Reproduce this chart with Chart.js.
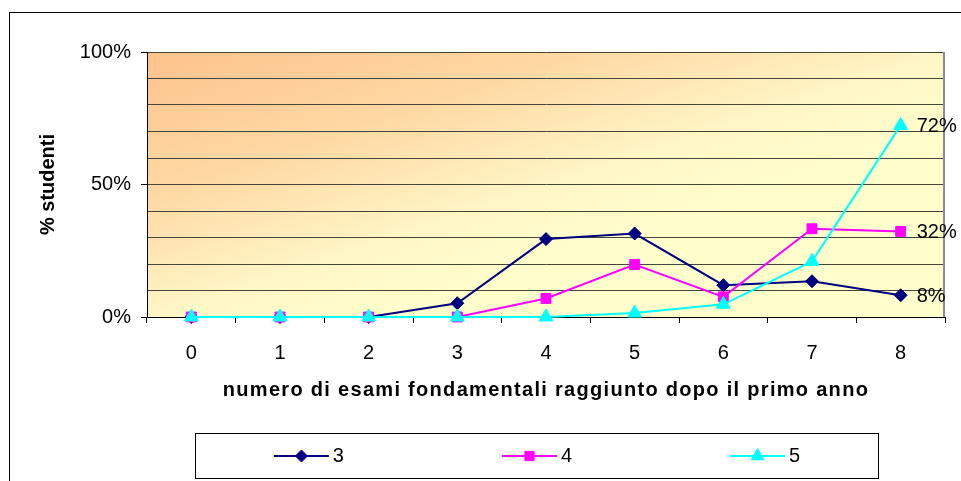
<!DOCTYPE html>
<html>
<head>
<meta charset="utf-8">
<script src="https://cdn.jsdelivr.net/npm/chart.js@4.4.0/dist/chart.umd.min.js"></script>
<style>
html,body{margin:0;padding:0;background:#ffffff;}
#wrap{width:961px;height:481px;position:relative;}
</style>
</head>
<body>
<div id="wrap"><canvas id="c" width="961" height="481"></canvas></div>
<script>
// ---- data ----
const categories = ['0','1','2','3','4','5','6','7','8'];
const seriesNames = ['3','4','5'];
const series3 = [0, 0, 0, 5.2, 29.4, 31.5, 12.0, 13.5, 8.2];
const series4 = [0, 0, 0, 0, 7.0, 19.8, 7.6, 33.3, 32.3];
const series5 = [0, 0, 0, 0, 0, 1.5, 4.8, 21.0, 72.3];
const yTickLabels = ['0%', '50%', '100%'];
const endLabels = ['8%', '32%', '72%'];
const xTitle = 'numero di esami fondamentali raggiunto dopo il primo anno';
const yTitle = '% studenti';

const FONT = "'Liberation Sans', Arial, sans-serif";
const colors = ['#000080', '#FF00FF', '#00FFFF'];
const styles = ['rectRot', 'rect', 'triangle'];
const radii = [6.5, 7, 8];

// legend marker images (line + marker)
function makeMarker(i) {
  const cv = document.createElement('canvas');
  cv.width = 200; cv.height = 22;
  const g = cv.getContext('2d');
  g.strokeStyle = colors[i];
  g.lineWidth = 2;
  g.beginPath(); g.moveTo(140, 11); g.lineTo(195, 11); g.stroke();
  g.fillStyle = colors[i];
  g.lineWidth = 1;
  Chart.helpers.drawPoint(g, {pointStyle: styles[i], radius: radii[i] - 0.5, rotation: 0, borderWidth: 1}, 167.5, 11);
  return cv;
}

const bgPlugin = {
  id: 'bg',
  beforeDraw(chart) {
    const {ctx, chartArea: a} = chart;
    ctx.save();
    ctx.fillStyle = '#ffffff';
    ctx.fillRect(0, 0, chart.width, chart.height);
    const w = a.right - a.left, h = a.bottom - a.top;
    // gradient perpendicular to the anti-diagonal of the plot area
    const t = 1 / (h / w + w / h);
    const gx = a.left + h * t * 1.35, gy = a.top + w * t * 1.35;
    const grad = ctx.createLinearGradient(a.left, a.top, gx, gy);
    grad.addColorStop(0, '#FDC28C');
    grad.addColorStop(0.4, '#FED8A3');
    grad.addColorStop(0.75, '#FFF6C6');
    grad.addColorStop(1, '#FFFFCC');
    ctx.fillStyle = grad;
    ctx.fillRect(a.left, a.top, w, h);
    // outer chart frame
    ctx.strokeStyle = '#000000';
    ctx.lineWidth = 1;
    ctx.strokeRect(9.5, 12.5, 965, 480);
    ctx.restore();
  },
  beforeDatasetsDraw(chart) {
    const {ctx, chartArea: a} = chart;
    ctx.save();
    ctx.strokeStyle = '#8c8c8c';
    ctx.lineWidth = 2;
    ctx.beginPath(); ctx.moveTo(a.right - 1, a.top); ctx.lineTo(a.right - 1, a.bottom); ctx.stroke();
    ctx.restore();
  },
  afterDraw(chart) {
    const {ctx} = chart;
    ctx.save();
    // end-of-line value labels
    ctx.font = '20px ' + FONT;
    ctx.fillStyle = '#000000';
    ctx.textAlign = 'left';
    ctx.textBaseline = 'middle';
    chart.data.datasets.forEach((ds, i) => {
      const meta = chart.getDatasetMeta(i);
      const p = meta.data[meta.data.length - 1];
      ctx.fillText(endLabels[i], p.x + 16, p.y + 1);
    });
    // legend frame
    ctx.strokeStyle = '#000000';
    ctx.lineWidth = 1;
    ctx.strokeRect(195.5, 433.5, 683, 45);
    ctx.restore();
  }
};

const spacingPlugin = {
  id: 'spacing',
  afterLayout(chart) {
    const xs = chart.scales.x;
    if (!xs._patched) {
      const orig = xs.drawTitle;
      xs.drawTitle = function () {
        const c = this.ctx;
        c.save();
        c.letterSpacing = '1.3px';
        orig.apply(this, arguments);
        c.restore();
      };
      xs._patched = true;
    }
  }
};

const datasets = [series3, series4, series5].map((vals, i) => ({
  label: seriesNames[i],
  data: vals,
  borderColor: colors[i],
  backgroundColor: colors[i],
  pointBackgroundColor: colors[i],
  pointBorderColor: colors[i],
  pointStyle: styles[i],
  pointRadius: radii[i],
  pointBorderWidth: 1,
  borderWidth: 2,
  tension: 0,
  clip: false,
  order: 2 - i
}));

const markers = [0, 1, 2].map(makeMarker);

new Chart(document.getElementById('c'), {
  type: 'line',
  data: { labels: categories, datasets },
  options: {
    responsive: false,
    maintainAspectRatio: false,
    animation: false,
    devicePixelRatio: 1,
    layout: { padding: { top: 52, right: 16, bottom: 5, left: 0 } },
    plugins: {
      tooltip: { enabled: false },
      legend: {
        position: 'bottom',
        labels: {
          usePointStyle: true,
          pointStyleWidth: 178,
          padding: 29,
          color: '#000000',
          font: { family: FONT, size: 20 },
          generateLabels(chart) {
            return chart.data.datasets.map((ds, i) => ({
              text: ds.label,
              pointStyle: markers[i],
              fillStyle: colors[i],
              strokeStyle: colors[i],
              lineWidth: 0,
              hidden: false,
              datasetIndex: i
            }));
          }
        }
      }
    },
    scales: {
      x: {
        type: 'category',
        offset: true,
        afterFit(s) { s.height = 100; },
        grid: {
          offset: true,
          drawOnChartArea: false,
          drawTicks: true,
          tickLength: 6,
          color: '#000000'
        },
        border: { display: true, color: '#000000', width: 1 },
        ticks: {
          color: '#000000',
          padding: 18,
          font: { family: FONT, size: 20 },
          maxRotation: 0,
          autoSkip: false
        },
        title: {
          display: true,
          text: xTitle,
          color: '#000000',
          font: { family: FONT, size: 20, weight: 'bold', lineHeight: 1.0 },
          padding: { top: 0, bottom: 17 }
        }
      },
      y: {
        min: 0,
        max: 100,
        afterFit(s) { s.width = 147; },
        grid: {
          color: (c) => (c.tick && c.tick.value === 0) ? 'rgba(0,0,0,0)' : '#45453c',
          lineWidth: 1,
          drawTicks: true,
          tickLength: 6,
          tickColor: (c) => (c.tick && c.tick.value % 50 === 0) ? '#000000' : 'rgba(0,0,0,0)'
        },
        border: { display: true, color: '#000000', width: 1 },
        ticks: {
          stepSize: 10,
          autoSkip: false,
          color: '#000000',
          padding: 10,
          font: { family: FONT, size: 20 },
          callback: (v) => (v % 50 === 0 ? yTickLabels[v / 50] : '')
        },
        title: {
          display: true,
          text: yTitle,
          color: '#000000',
          font: { family: FONT, size: 20, weight: 'bold', lineHeight: 1.2 },
          padding: { top: 36, bottom: 0 }
        }
      }
    }
  },
  plugins: [bgPlugin, spacingPlugin]
});
</script>
</body>
</html>
